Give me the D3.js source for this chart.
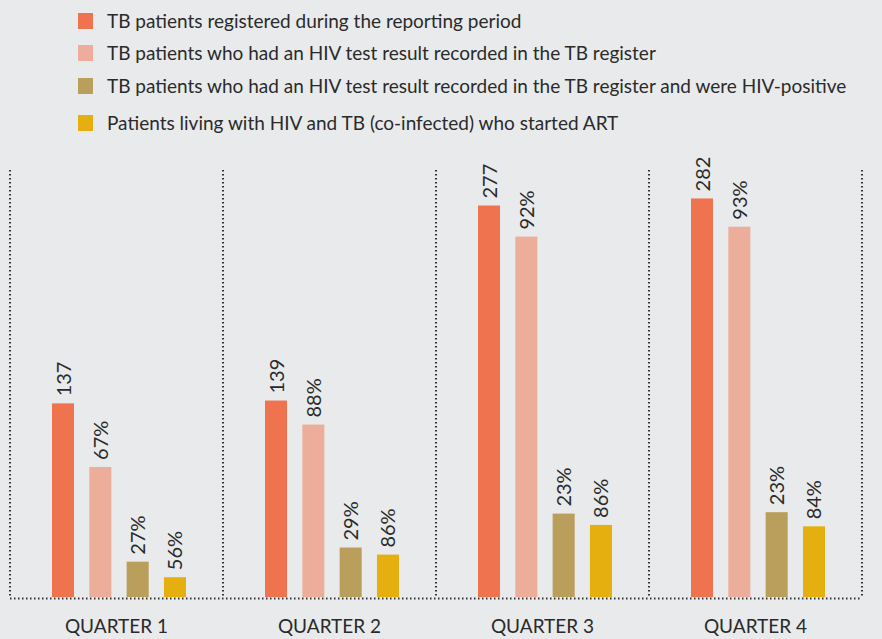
<!DOCTYPE html>
<html>
<head>
<meta charset="utf-8">
<script src="https://cdn.jsdelivr.net/npm/d3@7"></script>
<style>
  body { margin: 0; background: #e9eaec; }
  svg { display: block; font-family: Lato, "Open Sans", sans-serif; }
</style>
</head>
<body>
<div id="chart"></div>
<script>
// quarters and series
const quarters = ["QUARTER 1", "QUARTER 2", "QUARTER 3", "QUARTER 4"]
const seriesNames = [
  "TB patients registered during the reporting period",
  "TB patients who had an HIV test result recorded in the TB register",
  "TB patients who had an HIV test result recorded in the TB register and were HIV-positive",
  "Patients living with HIV and TB (co-infected) who started ART",
]
const seriesColors = ["#ee734e", "#ecae9b", "#b99e5c", "#e5af10"]

// bar values (patients)
const registered = [137, 139, 277, 282]
const tested = [92, 122, 255, 262]
const hivPositive = [25, 35, 59, 60]
const startedArt = [14, 30, 51, 50]

// labels printed above the bars
const registeredLabels = ["137", "139", "277", "282"]
const testedLabels = ["67%", "88%", "92%", "93%"]
const positiveLabels = ["27%", "29%", "23%", "23%"]
const artLabels = ["56%", "86%", "86%", "84%"]

const width = 882
const height = 639

const values = [registered, tested, hivPositive, startedArt]
const labels = [registeredLabels, testedLabels, positiveLabels, artLabels]

const data = quarters.map((q, i) => ({
  quarter: q,
  bars: values.map((v, s) => ({ s: s, value: v[i], label: labels[s][i] })),
}))

const svg = d3
  .select("#chart")
  .append("svg")
  .attr("width", width)
  .attr("height", height)

const x0 = d3.scaleBand().domain(quarters).range([10, 862])
const x1 = d3.scaleBand().domain(d3.range(4)).range([42, 176]).paddingInner(0.41)
const y = d3.scaleLinear().domain([0, 300]).range([597, 173])

// dotted frame
const dotted = (sel) =>
  sel.attr("stroke", "#333").attr("stroke-width", 2).attr("stroke-dasharray", "1.5,2.5")

svg
  .selectAll(".sep")
  .data(quarters.concat(["end"]))
  .join("line")
  .attr("class", "sep")
  .attr("x1", (d, i) => (i < 4 ? x0(d) : x0.range()[1]))
  .attr("x2", (d, i) => (i < 4 ? x0(d) : x0.range()[1]))
  .attr("y1", 170)
  .attr("y2", y(0) + 1)
  .call(dotted)

svg
  .append("line")
  .attr("x1", x0.range()[0])
  .attr("x2", x0.range()[1])
  .attr("y1", y(0) + 1.5)
  .attr("y2", y(0) + 1.5)
  .call(dotted)

// groups for quarters
const groups = svg
  .selectAll(".quarter")
  .data(data)
  .join("g")
  .attr("class", "quarter")
  .attr("transform", (d) => `translate(${x0(d.quarter)},0)`)

groups
  .selectAll("rect")
  .data((d) => d.bars)
  .join("rect")
  .attr("x", (d) => x1(d.s))
  .attr("y", (d) => y(d.value))
  .attr("width", x1.bandwidth())
  .attr("height", (d) => y(0) - y(d.value))
  .style("fill", (d) => seriesColors[d.s])

groups
  .selectAll(".bar-label")
  .data((d) => d.bars)
  .join("text")
  .attr("class", "bar-label")
  .attr(
    "transform",
    (d) => `translate(${x1(d.s) + x1.bandwidth() / 2 + 7.5},${y(d.value) - 7}) rotate(-90)`
  )
  .style("font-size", "20px")
  .style("fill", "#2a2a2a")
  .text((d) => d.label)

groups
  .append("text")
  .attr("x", x0.bandwidth() / 2)
  .attr("y", 633)
  .attr("text-anchor", "middle")
  .style("font-size", "19px")
  .style("fill", "#2a2a2a")
  .text((d) => d.quarter)

// LEGEND
const legendY = [21, 53, 86, 123]
const legend = svg
  .selectAll(".legend")
  .data(seriesNames)
  .join("g")
  .attr("class", "legend")
  .attr("transform", (d, i) => `translate(78,${legendY[i]})`)

legend
  .append("rect")
  .attr("x", 0)
  .attr("y", -8)
  .attr("width", 15)
  .attr("height", 16)
  .style("fill", (d, i) => seriesColors[i])

legend
  .append("text")
  .attr("x", 29)
  .attr("y", 6.5)
  .style("font-size", "19px")
  .style("fill", "#2a2a2a")
  .text((d) => d)
</script>
</body>
</html>
